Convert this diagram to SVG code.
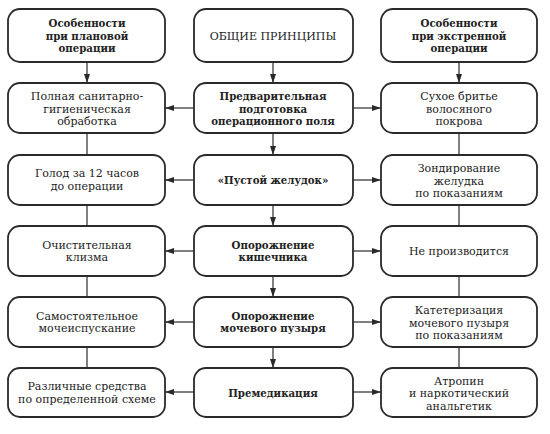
<svg xmlns="http://www.w3.org/2000/svg" width="550" height="434" viewBox="0 0 550 434">
<style>
.box{fill:#fff;stroke:#2a2a2a;stroke-width:1.8}
.t{font-family:"DejaVu Serif","Liberation Serif",serif;font-size:11px;fill:#222;text-anchor:middle}
.b{font-weight:bold;font-size:10.2px}
.c{stroke:#2a2a2a;stroke-width:1.2;fill:none}
</style>
<defs>
<marker id="ah" markerWidth="9" markerHeight="6" refX="9" refY="3" orient="auto" markerUnits="userSpaceOnUse">
<path d="M0,0 L9,3 L0,6 Z" fill="#2a2a2a"/>
</marker>
</defs>
<rect width="550" height="434" fill="#fff"/>
<g id="connectors">
<line class="c" x1="87" y1="62" x2="87" y2="83" marker-end="url(#ah)"/>
<line class="c" x1="87" y1="133" x2="87" y2="155"/>
<line class="c" x1="87" y1="205" x2="87" y2="226"/>
<line class="c" x1="87" y1="276" x2="87" y2="297"/>
<line class="c" x1="87" y1="347" x2="87" y2="368"/>
<line class="c" x1="273" y1="62" x2="273" y2="83" marker-end="url(#ah)"/>
<line class="c" x1="273" y1="133" x2="273" y2="155" marker-end="url(#ah)"/>
<line class="c" x1="273" y1="205" x2="273" y2="226" marker-end="url(#ah)"/>
<line class="c" x1="273" y1="276" x2="273" y2="297" marker-end="url(#ah)"/>
<line class="c" x1="273" y1="347" x2="273" y2="368" marker-end="url(#ah)"/>
<line class="c" x1="459" y1="62" x2="459" y2="83" marker-end="url(#ah)"/>
<line class="c" x1="459" y1="133" x2="459" y2="155"/>
<line class="c" x1="459" y1="205" x2="459" y2="226"/>
<line class="c" x1="459" y1="276" x2="459" y2="297"/>
<line class="c" x1="459" y1="347" x2="459" y2="368"/>
<line class="c" x1="194" y1="108" x2="165" y2="108" marker-end="url(#ah)"/>
<line class="c" x1="194" y1="180" x2="165" y2="180" marker-end="url(#ah)"/>
<line class="c" x1="194" y1="251" x2="165" y2="251" marker-end="url(#ah)"/>
<line class="c" x1="194" y1="322" x2="165" y2="322" marker-end="url(#ah)"/>
<line class="c" x1="194" y1="392" x2="165" y2="392" marker-end="url(#ah)"/>
<line class="c" x1="353" y1="108" x2="381" y2="108" marker-end="url(#ah)"/>
<line class="c" x1="353" y1="180" x2="381" y2="180" marker-end="url(#ah)"/>
<line class="c" x1="353" y1="251" x2="381" y2="251" marker-end="url(#ah)"/>
<line class="c" x1="353" y1="322" x2="381" y2="322" marker-end="url(#ah)"/>
<line class="c" x1="353" y1="392" x2="381" y2="392" marker-end="url(#ah)"/>
</g>
<g id="L1"><rect class="box" x="8" y="9" width="157" height="53" rx="12"/>
<text class="t b" x="87" y="27">Особенности</text><text class="t b" x="87" y="39.5">при плановой</text><text class="t b" x="87" y="52">операции</text></g>
<g id="M1"><rect class="box" x="194" y="9" width="159" height="53" rx="12"/>
<text class="t" x="273" y="40">ОБЩИЕ ПРИНЦИПЫ</text></g>
<g id="R1"><rect class="box" x="381" y="9" width="156" height="53" rx="12"/>
<text class="t b" x="459" y="27">Особенности</text><text class="t b" x="459" y="39.5">при экстренной</text><text class="t b" x="459" y="52">операции</text></g>

<g id="L2"><rect class="box" x="8" y="83" width="157" height="50" rx="12"/>
<text class="t" x="87" y="100">Полная санитарно-</text><text class="t" x="87" y="112.5">гигиеническая</text><text class="t" x="87" y="125">обработка</text></g>
<g id="M2"><rect class="box" x="194" y="83" width="159" height="50" rx="12"/>
<text class="t b" x="273" y="100">Предварительная</text><text class="t b" x="273" y="112.5">подготовка</text><text class="t b" x="273" y="125">операционного поля</text></g>
<g id="R2"><rect class="box" x="381" y="83" width="156" height="50" rx="12"/>
<text class="t" x="459" y="100">Сухое бритье</text><text class="t" x="459" y="112.5">волосяного</text><text class="t" x="459" y="125">покрова</text></g>

<g id="L3"><rect class="box" x="8" y="155" width="157" height="50" rx="12"/>
<text class="t" x="87" y="177">Голод за 12 часов</text><text class="t" x="87" y="189.5">до операции</text></g>
<g id="M3"><rect class="box" x="194" y="155" width="159" height="50" rx="12"/>
<text class="t b" x="273" y="184">«Пустой желудок»</text></g>
<g id="R3"><rect class="box" x="381" y="155" width="156" height="50" rx="12"/>
<text class="t" x="459" y="172">Зондирование</text><text class="t" x="459" y="184.5">желудка</text><text class="t" x="459" y="197">по показаниям</text></g>

<g id="L4"><rect class="box" x="8" y="226" width="157" height="50" rx="12"/>
<text class="t" x="87" y="248.5">Очистительная</text><text class="t" x="87" y="261">клизма</text></g>
<g id="M4"><rect class="box" x="194" y="226" width="159" height="50" rx="12"/>
<text class="t b" x="273" y="248.5">Опорожнение</text><text class="t b" x="273" y="261">кишечника</text></g>
<g id="R4"><rect class="box" x="381" y="226" width="156" height="50" rx="12"/>
<text class="t" x="459" y="255">Не производится</text></g>

<g id="L5"><rect class="box" x="8" y="297" width="157" height="50" rx="12"/>
<text class="t" x="87" y="319.5">Самостоятельное</text><text class="t" x="87" y="332">мочеиспускание</text></g>
<g id="M5"><rect class="box" x="194" y="297" width="159" height="50" rx="12"/>
<text class="t b" x="273" y="319.5">Опорожнение</text><text class="t b" x="273" y="332">мочевого пузыря</text></g>
<g id="R5"><rect class="box" x="381" y="297" width="156" height="50" rx="12"/>
<text class="t" x="459" y="314">Катетеризация</text><text class="t" x="459" y="326.5">мочевого пузыря</text><text class="t" x="459" y="339">по показаниям</text></g>

<g id="L6"><rect class="box" x="8" y="368" width="157" height="49" rx="12"/>
<text class="t" x="87" y="390">Различные средства</text><text class="t" x="87" y="402.5">по определенной схеме</text></g>
<g id="M6"><rect class="box" x="194" y="368" width="159" height="49" rx="12"/>
<text class="t b" x="273" y="396.5">Премедикация</text></g>
<g id="R6"><rect class="box" x="381" y="368" width="156" height="49" rx="12"/>
<text class="t" x="459" y="384.5">Атропин</text><text class="t" x="459" y="397">и наркотический</text><text class="t" x="459" y="409.5">анальгетик</text></g>
</svg>
